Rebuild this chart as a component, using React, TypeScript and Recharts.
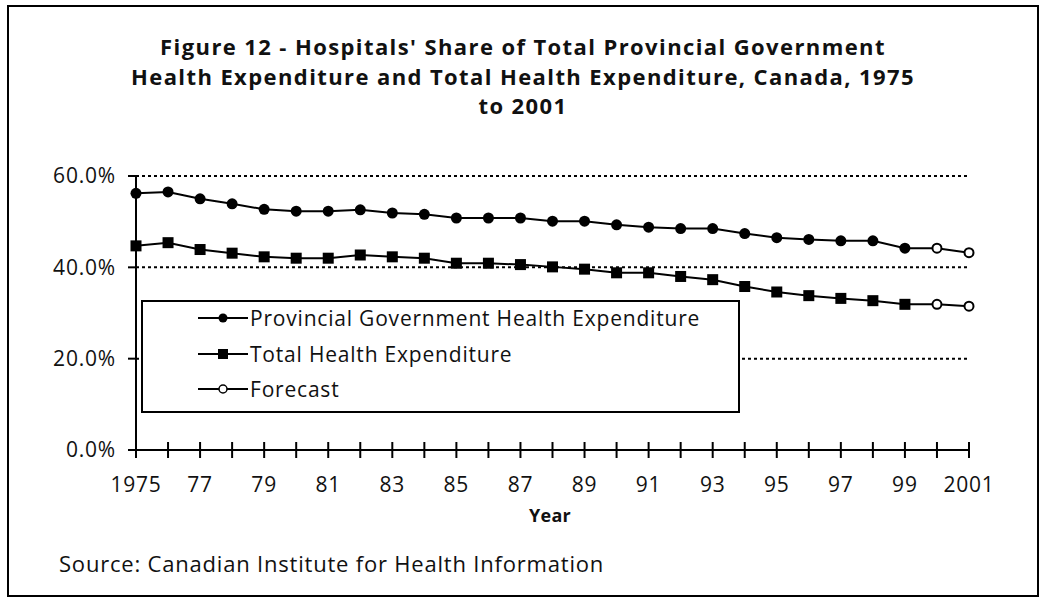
import React from "react";
import { LineChart, Line, XAxis, YAxis, CartesianGrid } from "recharts";

// values (percent)
const years = [
  1975, 1976, 1977, 1978, 1979, 1980, 1981, 1982, 1983, 1984, 1985, 1986, 1987,
  1988, 1989, 1990, 1991, 1992, 1993, 1994, 1995, 1996, 1997, 1998, 1999, 2000,
  2001,
];
const provincialShare = [
  56.2, 56.5, 55.0, 53.9, 52.7, 52.3, 52.3, 52.6, 51.9, 51.6, 50.8, 50.8, 50.8,
  50.1, 50.1, 49.3, 48.8, 48.5, 48.5, 47.4, 46.5, 46.1, 45.8, 45.8, 44.2, 44.2,
  43.2,
];
const totalShare = [
  44.7, 45.4, 43.9, 43.1, 42.3, 42.0, 42.0, 42.7, 42.3, 42.0, 40.9, 40.9, 40.6,
  40.1, 39.6, 38.8, 38.8, 38.0, 37.3, 35.8, 34.6, 33.8, 33.2, 32.7, 31.9, 31.9,
  31.5,
];
const forecastYears = [2000, 2001];
const yTicks = [0, 20, 40, 60];

const titleLines = [
  "Figure 12 - Hospitals' Share of Total Provincial Government",
  "Health Expenditure and Total Health Expenditure, Canada, 1975",
  "to 2001",
];
const legendItems = [
  { name: "Provincial Government Health Expenditure", shape: "circle" },
  { name: "Total Health Expenditure", shape: "square" },
  { name: "Forecast", shape: "open" },
];

const data = years.map((year, i) => ({
  year,
  provincial: provincialShare[i],
  total: totalShare[i],
}));

const FONT = "'Open Sans', sans-serif";

const isForecast = (year: number) => forecastYears.includes(year);

const CircleDot = (props: any) => {
  const { cx, cy, payload } = props;
  if (cx == null || cy == null) return null;
  const open = isForecast(payload.year);
  return (
    <circle
      key={`c-${payload.year}`}
      cx={cx}
      cy={cy}
      r={open ? 4.5 : 5.5}
      fill={open ? "#fff" : "#000"}
      stroke="#000"
      strokeWidth={open ? 2 : 0}
    />
  );
};

const SquareDot = (props: any) => {
  const { cx, cy, payload } = props;
  if (cx == null || cy == null) return null;
  if (isForecast(payload.year)) {
    return (
      <circle
        key={`s-${payload.year}`}
        cx={cx}
        cy={cy}
        r={4.5}
        fill="#fff"
        stroke="#000"
        strokeWidth={2}
      />
    );
  }
  return (
    <rect
      key={`s-${payload.year}`}
      x={cx - 5.5}
      y={cy - 5.5}
      width={11}
      height={11}
      fill="#000"
    />
  );
};

const YearTick = (props: any) => {
  const { x, y, payload } = props;
  const yr = payload.value as number;
  const showLabel = (yr - years[0]) % 2 === 0;
  const label = yr === years[0] || yr >= 2000 ? String(yr) : String(yr % 100).padStart(2, "0");
  return (
    <g>
      <line x1={x} x2={x} y1={y - 8} y2={y + 8} stroke="#000" strokeWidth={2} />
      {showLabel && (
        <text
          x={x}
          y={y + 42}
          textAnchor="middle"
          fontFamily={FONT}
          fontSize={21}
          letterSpacing={0.8}
          fill="#111"
        >
          {label}
        </text>
      )}
    </g>
  );
};

const LegendIcon = ({ shape }: { shape: string }) => (
  <svg width={50} height={14} style={{ position: "absolute", left: 55, top: -7 }}>
    <line x1={0} x2={50} y1={7} y2={7} stroke="#000" strokeWidth={2} />
    {shape === "circle" && <circle cx={25} cy={7} r={4.5} fill="#000" />}
    {shape === "square" && <rect x={20} y={2} width={10} height={10} fill="#000" />}
    {shape === "open" && (
      <circle cx={25} cy={7} r={4} fill="#fff" stroke="#000" strokeWidth={1.5} />
    )}
  </svg>
);

const App: React.FC = () => {
  return (
    <div
      style={{
        position: "absolute",
        left: 7,
        top: 5,
        width: 1032,
        height: 592,
        border: "2px solid #000",
        boxSizing: "border-box",
        background: "#fff",
        fontFamily: FONT,
        color: "#111",
      }}
    >
      <LineChart
        width={1028}
        height={588}
        data={data}
        margin={{ top: 169, right: 68, bottom: 105, left: 67 }}
        style={{ position: "absolute", left: 0, top: 0 }}
      >
        <CartesianGrid
          vertical={false}
          stroke="#000"
          strokeWidth={2}
          strokeDasharray="3 3"
        />
        <XAxis
          dataKey="year"
          type="number"
          domain={[1975, 2001]}
          ticks={years}
          interval={0}
          height={40}
          axisLine={{ stroke: "#000", strokeWidth: 2 }}
          tickLine={false}
          tickSize={0}
          tickMargin={0}
          tick={<YearTick />}
        />
        <YAxis
          domain={[0, 60]}
          ticks={yTicks}
          width={60}
          axisLine={{ stroke: "#000", strokeWidth: 2 }}
          tickLine={{ stroke: "#000", strokeWidth: 2 }}
          tickSize={8}
          tickMargin={12}
          tickFormatter={(v: number) => `${v.toFixed(1)}%`}
          tick={{ fontFamily: FONT, fontSize: 21, fill: "#111", letterSpacing: 0.8 }}
        />
        <Line
          dataKey="provincial"
          stroke="#000"
          strokeWidth={2}
          dot={CircleDot}
          activeDot={false}
          isAnimationActive={false}
        />
        <Line
          dataKey="total"
          stroke="#000"
          strokeWidth={2}
          dot={SquareDot}
          activeDot={false}
          isAnimationActive={false}
        />
      </LineChart>

      <div
        style={{
          position: "absolute",
          left: 0,
          right: 0,
          top: 25,
          textAlign: "center",
          fontWeight: 700,
          fontSize: 22,
          letterSpacing: 1.4,
          lineHeight: "29.5px",
        }}
      >
        {titleLines.map((t) => (
          <div key={t}>{t}</div>
        ))}
      </div>

      <div
        style={{
          position: "absolute",
          left: 132,
          top: 293,
          width: 599,
          height: 113,
          border: "2px solid #000",
          boxSizing: "border-box",
          background: "#fff",
        }}
      >
        {legendItems.map((item, i) => (
          <div
            key={item.name}
            style={{ position: "absolute", left: 0, top: 16 + i * 35.5, width: "100%" }}
          >
            <LegendIcon shape={item.shape} />
            <div
              style={{
                position: "absolute",
                left: 107,
                top: -15,
                fontSize: 21,
                letterSpacing: 0.8,
                lineHeight: "30px",
                whiteSpace: "nowrap",
              }}
            >
              {item.name}
            </div>
          </div>
        ))}
      </div>

      <div
        style={{
          position: "absolute",
          left: 541,
          top: 496,
          transform: "translateX(-50%)",
          fontWeight: 700,
          fontSize: 18,
          letterSpacing: 0.3,
          lineHeight: "24px",
        }}
      >
        Year
      </div>

      <div
        style={{
          position: "absolute",
          left: 50,
          top: 541,
          fontSize: 22,
          letterSpacing: 0.8,
          lineHeight: "30px",
          whiteSpace: "nowrap",
        }}
      >
        Source: Canadian Institute for Health Information
      </div>
    </div>
  );
};

export default App;
